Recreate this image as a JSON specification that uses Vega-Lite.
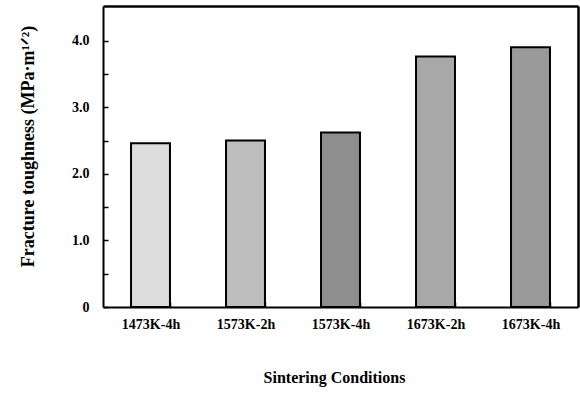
{
  "$schema": "https://vega.github.io/schema/vega-lite/v6.json",
  "autosize": "none",
  "width": 475,
  "height": 301,
  "padding": {"left": 103, "top": 6, "right": 3, "bottom": 87},
  "background": "white",
  "data": {
    "values": [
      {"condition": "1473K-4h", "toughness": 2.46},
      {"condition": "1573K-2h", "toughness": 2.50},
      {"condition": "1573K-4h", "toughness": 2.62},
      {"condition": "1673K-2h", "toughness": 3.76},
      {"condition": "1673K-4h", "toughness": 3.90}
    ]
  },
  "config": {
    "view": {"stroke": null},
    "font": "Liberation Serif",
    "axis": {
      "labelFont": "Liberation Serif",
      "titleFont": "Liberation Serif",
      "labelFontWeight": "bold",
      "titleFontWeight": "bold",
      "labelColor": "black",
      "titleColor": "black",
      "domainColor": "black",
      "domainWidth": 2,
      "tickColor": "black",
      "tickWidth": 1.5,
      "grid": false
    }
  },
  "resolve": {"axis": {"x": "independent", "y": "independent"}},
  "layer": [
    {
      "mark": {"type": "bar", "stroke": "black", "strokeWidth": 2},
      "encoding": {
        "x": {
          "field": "condition",
          "type": "nominal",
          "sort": null,
          "scale": {"paddingInner": 0.59, "paddingOuter": 0.295},
          "axis": {
            "title": "Sintering Conditions",
            "titleFontSize": 16,
            "titlePadding": 38,
            "titleX": 231,
            "labelAngle": 0,
            "labelFontSize": 14,
            "labelPadding": 15,
            "tickBand": "extent",
            "tickSize": -5
          }
        },
        "y": {
          "field": "toughness",
          "type": "quantitative",
          "scale": {"domain": [0, 4.52], "nice": false},
          "axis": {
            "title": "Fracture toughness (MPa·m¹ᐟ²)",
            "titleFontSize": 18,
            "titlePadding": 34,
            "titleY": 140,
            "values": [0, 0.5, 1, 1.5, 2, 2.5, 3, 3.5, 4],
            "labelExpr": "datum.value === 0 ? '0' : (datum.value % 1 === 0 ? format(datum.value, '.1f') : '')",
            "labelFontSize": 14,
            "labelPadding": 19,
            "tickSize": -5
          }
        },
        "color": {
          "field": "condition",
          "type": "nominal",
          "sort": null,
          "scale": {"range": ["#dcdcdc", "#bdbdbd", "#8e8e8e", "#a8a8a8", "#9a9a9a"]},
          "legend": null
        }
      }
    },
    {
      "mark": {"type": "bar", "opacity": 0},
      "encoding": {
        "x": {
          "field": "condition",
          "type": "nominal",
          "sort": null,
          "axis": {"orient": "top", "title": null, "labels": false, "ticks": false, "domainColor": "#000000", "domainWidth": 2.5, "domainOpacity": 1}
        },
        "y": {
          "field": "toughness",
          "type": "quantitative",
          "axis": {"orient": "right", "title": null, "labels": false, "ticks": false, "domainColor": "#000000", "domainWidth": 2.5, "domainOpacity": 1}
        }
      }
    }
  ]
}
